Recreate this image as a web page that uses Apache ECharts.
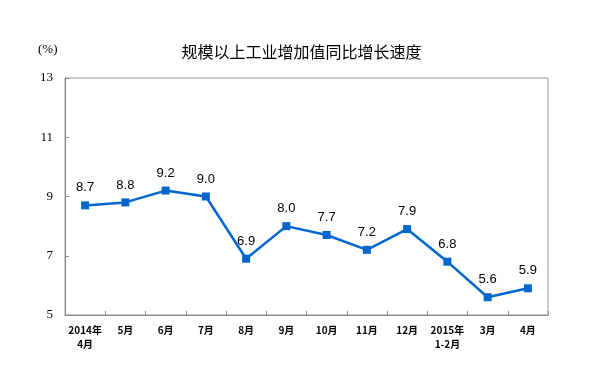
<!DOCTYPE html>
<html><head><meta charset="utf-8">
<script src="https://cdn.jsdelivr.net/npm/echarts@6/dist/echarts.min.js"></script>
<style>html,body{margin:0;padding:0;background:#fff}#c{width:603px;height:375px}</style>
</head><body><div id="c"></div>
<script>
var categories = ['2014年\n4月','5月','6月','7月','8月','9月','10月','11月','12月','2015年\n1-2月','3月','4月'];
var values = [8.7, 8.8, 9.2, 9.0, 6.9, 8.0, 7.7, 7.2, 7.9, 6.8, 5.6, 5.9];
var yTicks = [5, 7, 9, 11, 13];
var titleText = '规模以上工业增加值同比增长速度';
var unitText = '(%)';

var chart = echarts.init(document.getElementById('c'));
chart.setOption({
  backgroundColor: '#fff',
  animation: false,
  title: {
    text: titleText, left: 'center', top: 39,
    textStyle: {fontFamily: 'Noto Sans CJK SC', fontSize: 16, fontWeight: 'normal', color: '#000'}
  },
  graphic: [{type: 'text', left: 38, top: 43, style: {text: unitText, fontFamily: 'Liberation Serif', fontSize: 13, fill: '#000'}}],
  grid: {left: 65, right: 55, top: 78, bottom: 60, show: true, borderColor: '#999', borderWidth: 1},
  xAxis: {
    type: 'category', data: categories, boundaryGap: true,
    axisLine: {lineStyle: {color: '#888', width: 1}},
    axisTick: {show: true, inside: true, length: 4, lineStyle: {color: '#888'}},
    axisLabel: {interval: 0, color: '#000', fontFamily: 'Noto Sans CJK SC', fontSize: 10, fontWeight: 'bold', margin: 8, lineHeight: 14}
  },
  yAxis: {
    type: 'value', min: yTicks[0], max: yTicks[yTicks.length-1], interval: 2,
    splitLine: {show: false},
    axisLine: {show: true, lineStyle: {color: '#888'}},
    axisTick: {show: true, inside: true, length: 4, lineStyle: {color: '#888'}},
    axisLabel: {color: '#000', fontFamily: 'Liberation Serif', fontSize: 13, margin: 12}
  },
  series: [{
    type: 'line', data: values,
    symbol: 'rect', symbolSize: 8,
    lineStyle: {color: '#0066CC', width: 2.5},
    itemStyle: {color: '#0066CC'},
    label: {show: true, position: 'top', distance: 7, color: '#000', fontFamily: 'Liberation Sans', fontSize: 13,
      formatter: function(p){return p.value.toFixed(1);}}
  }]
});
</script></body></html>
